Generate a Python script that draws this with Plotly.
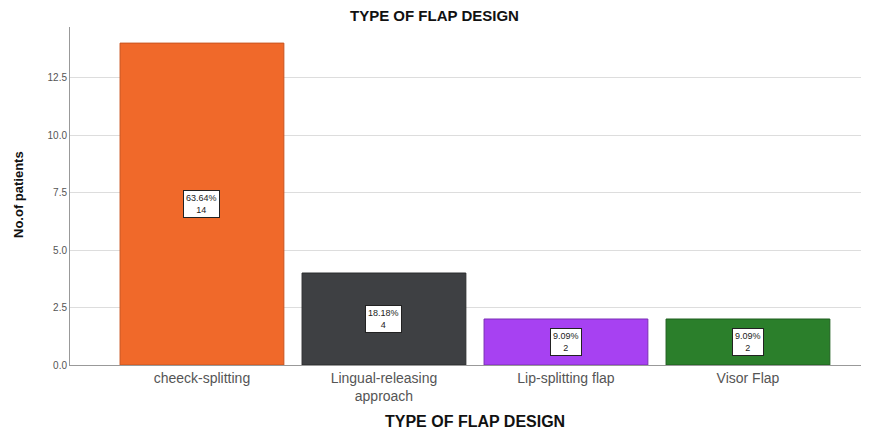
import plotly.graph_objects as go

categories = ["cheeck-splitting", "Lingual-releasing<br>approach", "Lip-splitting flap", "Visor Flap"]
counts = [14, 4, 2, 2]
percents = ["63.64%", "18.18%", "9.09%", "9.09%"]
colors = ["#F0692A", "#3E4043", "#A741F2", "#2B7F2B"]
edge_colors = ["#C9541F", "#2A2C2E", "#7A2EB5", "#1E5E1E"]
y_ticks = [0.0, 2.5, 5.0, 7.5, 10.0, 12.5]

FONT = "Liberation Sans, Arial"

# page shows the figure with an 8px body offset
W, H = 861, 421
L, R, T, B = 62, 0, 19, 64
PW, PH = W - L - R, H - T - B


def px(xs):  # screen x -> paper
    return (xs - 8 - L) / PW


def py(ys):  # screen y -> paper
    return (H - B - (ys - 8)) / PH


fig = go.Figure()
fig.add_trace(go.Bar(
    x=categories, y=counts, width=0.9,
    marker=dict(color=colors, line=dict(color=edge_colors, width=1)),
    hoverinfo="skip",
))

for c, v, p in zip(categories, counts, percents):
    fig.add_annotation(
        x=c, y=v / 2, xref="x", yref="y",
        text=f"{p}<br>{v}", showarrow=False,
        font=dict(family=FONT, size=9, color="#222"),
        bgcolor="white", bordercolor="#222", borderwidth=1, borderpad=2,
    )

fig.add_annotation(x=px(434), y=py(16), xref="paper", yref="paper",
                   xanchor="center", yanchor="middle", showarrow=False,
                   text="<b>TYPE OF FLAP DESIGN</b>",
                   font=dict(family=FONT, size=15, color="#111"))
fig.add_annotation(x=px(475), y=py(421), xref="paper", yref="paper",
                   xanchor="center", yanchor="middle", showarrow=False,
                   text="<b>TYPE OF FLAP DESIGN</b>",
                   font=dict(family=FONT, size=16, color="#111"))
fig.add_annotation(x=px(18), y=py(195), xref="paper", yref="paper",
                   xanchor="center", yanchor="middle", showarrow=False,
                   textangle=-90, text="<b>No.of patients</b>",
                   font=dict(family=FONT, size=13, color="#111"))

fig.update_layout(
    width=W, height=H,
    margin=dict(l=L, r=R, t=T, b=B, pad=0, autoexpand=False),
    paper_bgcolor="white", plot_bgcolor="white",
    showlegend=False,
    font=dict(family=FONT, color="#444"),
)
fig.update_xaxes(
    range=[-0.725, 3.665], automargin=False,
    showline=True, linecolor="#999", linewidth=1,
    ticks="", tickfont=dict(size=14, color="#555"),
)
fig.update_yaxes(
    range=[0, 14.7], automargin=False,
    tickvals=y_ticks, ticktext=[f"{t:.1f}" for t in y_ticks],
    showline=True, linecolor="#999", linewidth=1,
    showgrid=True, gridcolor="#DDDDDD", gridwidth=1,
    zeroline=False,
    ticks="", tickfont=dict(size=10, color="#555"),
)

fig.write_html("out.html")
